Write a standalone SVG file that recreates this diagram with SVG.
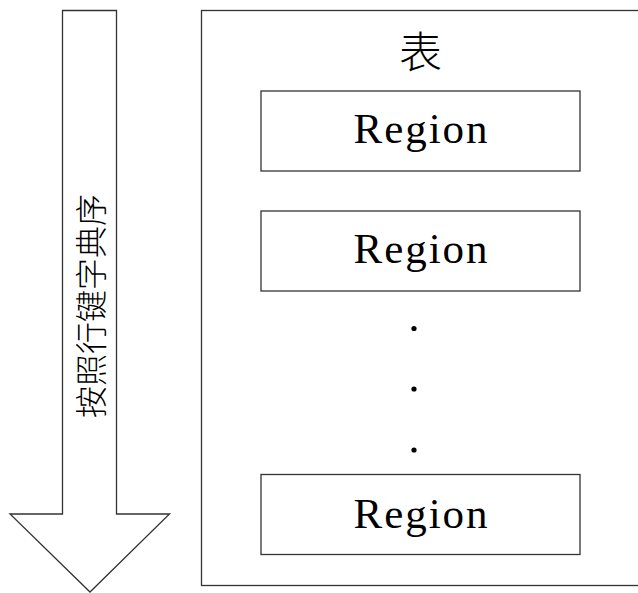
<svg xmlns="http://www.w3.org/2000/svg" width="638" height="593" viewBox="0 0 638 593">
<style>
.shape{fill:#fff;stroke:#333;stroke-width:1.3}
.lat{font-family:"Liberation Serif","Noto Sans CJK SC",serif;font-size:43px;fill:#000;text-anchor:middle}
.cjk{font-family:"Noto Sans CJK SC",sans-serif;fill:#000;text-anchor:middle;dominant-baseline:central;font-weight:300}
.dot{fill:#000}
</style>
<rect width="638" height="593" fill="#fff"/>
<g id="order-arrow">
<polygon class="shape" points="62.5,10.5 116.5,10.5 116.5,514 169.5,514 90,592 10,514 62.5,514"/>
<text class="cjk" font-size="32" transform="translate(88.5,306) rotate(-90)" x="0" y="0">按照行键字典序</text>
</g>
<g id="table">
<rect class="shape" x="201.5" y="10.5" width="460" height="575"/>
<text class="cjk" font-size="43" x="420.5" y="49">表</text>
</g>
<g id="region1">
<rect class="shape" x="261" y="91" width="319" height="80"/>
<text class="lat" x="420.5" y="143" textLength="134" lengthAdjust="spacing">Region</text>
</g>
<g id="region2">
<rect class="shape" x="261" y="211" width="319" height="80"/>
<text class="lat" x="420.5" y="263" textLength="134" lengthAdjust="spacing">Region</text>
</g>
<g id="ellipsis">
<circle class="dot" cx="414" cy="328.5" r="2.6"/>
<circle class="dot" cx="414" cy="389" r="2.6"/>
<circle class="dot" cx="414" cy="450" r="2.6"/>
</g>
<g id="region3">
<rect class="shape" x="261" y="474.5" width="319" height="80"/>
<text class="lat" x="420.5" y="527.5" textLength="134" lengthAdjust="spacing">Region</text>
</g>
<g id="connectors"></g>
</svg>
